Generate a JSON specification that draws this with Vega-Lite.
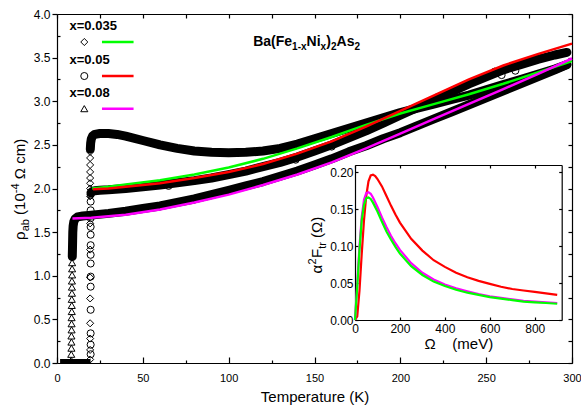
{
  "$schema": "https://vega.github.io/schema/vega-lite/v6.json",
  "width": 515,
  "height": 349,
  "autosize": {"type": "none"},
  "padding": {"left": 57, "top": 14, "right": 9, "bottom": 43},
  "config": {
    "view": {"stroke": null},
    "font": "Liberation Sans",
    "axis": {"grid": false, "labelFlush": false, "domainColor": "#000", "tickColor": "#000", "labelColor": "#000", "titleColor": "#000", "domainWidth": 1.2, "tickWidth": 1.2, "labelFont": "Liberation Sans", "titleFont": "Liberation Sans", "titleFontWeight": "normal", "labelFontSize": 12, "titleFontSize": 15},
    "text": {"font": "Liberation Sans", "fill": "#000"}
  },
  "datasets": {
    "curves": [
      {"s": "x=0.08", "T": 2, "rho": 0}, {"s": "x=0.08", "T": 8.3, "rho": 0},
      {"s": "x=0.05", "T": 2, "rho": 0}, {"s": "x=0.05", "T": 19.5, "rho": 0},
      {"s": "x=0.035", "T": 2, "rho": 0}, {"s": "x=0.035", "T": 19.3, "rho": 0},
      {"s": "x=0.08", "T": 8.9, "rho": 1.22}, {"s": "x=0.08", "T": 9.0, "rho": 1.3}, {"s": "x=0.08", "T": 9.1, "rho": 1.4}, {"s": "x=0.08", "T": 9.2, "rho": 1.5}, {"s": "x=0.08", "T": 9.4, "rho": 1.57}, {"s": "x=0.08", "T": 9.8, "rho": 1.62}, {"s": "x=0.08", "T": 10.5, "rho": 1.65}, {"s": "x=0.08", "T": 12, "rho": 1.675}, {"s": "x=0.08", "T": 15, "rho": 1.685}, {"s": "x=0.08", "T": 20, "rho": 1.695}, {"s": "x=0.08", "T": 30, "rho": 1.715}, {"s": "x=0.08", "T": 40, "rho": 1.74}, {"s": "x=0.08", "T": 50, "rho": 1.77}, {"s": "x=0.08", "T": 60, "rho": 1.8}, {"s": "x=0.08", "T": 70, "rho": 1.84}, {"s": "x=0.08", "T": 80, "rho": 1.88}, {"s": "x=0.08", "T": 90, "rho": 1.93}, {"s": "x=0.08", "T": 100, "rho": 1.98}, {"s": "x=0.08", "T": 110, "rho": 2.03}, {"s": "x=0.08", "T": 120, "rho": 2.08}, {"s": "x=0.08", "T": 130, "rho": 2.14}, {"s": "x=0.08", "T": 140, "rho": 2.2}, {"s": "x=0.08", "T": 150, "rho": 2.27}, {"s": "x=0.08", "T": 160, "rho": 2.34}, {"s": "x=0.08", "T": 170, "rho": 2.42}, {"s": "x=0.08", "T": 180, "rho": 2.49}, {"s": "x=0.08", "T": 190, "rho": 2.57}, {"s": "x=0.08", "T": 200, "rho": 2.64}, {"s": "x=0.08", "T": 210, "rho": 2.72}, {"s": "x=0.08", "T": 220, "rho": 2.8}, {"s": "x=0.08", "T": 230, "rho": 2.88}, {"s": "x=0.08", "T": 240, "rho": 2.96}, {"s": "x=0.08", "T": 250, "rho": 3.04}, {"s": "x=0.08", "T": 260, "rho": 3.12}, {"s": "x=0.08", "T": 270, "rho": 3.2}, {"s": "x=0.08", "T": 280, "rho": 3.28}, {"s": "x=0.08", "T": 290, "rho": 3.36}, {"s": "x=0.08", "T": 297, "rho": 3.42},
      {"s": "x=0.05", "T": 19.8, "rho": 1.95}, {"s": "x=0.05", "T": 20.5, "rho": 1.965}, {"s": "x=0.05", "T": 22, "rho": 1.975}, {"s": "x=0.05", "T": 25, "rho": 1.98}, {"s": "x=0.05", "T": 30, "rho": 1.985}, {"s": "x=0.05", "T": 40, "rho": 2.0}, {"s": "x=0.05", "T": 50, "rho": 2.02}, {"s": "x=0.05", "T": 60, "rho": 2.04}, {"s": "x=0.05", "T": 70, "rho": 2.065}, {"s": "x=0.05", "T": 80, "rho": 2.09}, {"s": "x=0.05", "T": 90, "rho": 2.12}, {"s": "x=0.05", "T": 100, "rho": 2.16}, {"s": "x=0.05", "T": 110, "rho": 2.2}, {"s": "x=0.05", "T": 120, "rho": 2.25}, {"s": "x=0.05", "T": 130, "rho": 2.3}, {"s": "x=0.05", "T": 140, "rho": 2.36}, {"s": "x=0.05", "T": 150, "rho": 2.43}, {"s": "x=0.05", "T": 160, "rho": 2.5}, {"s": "x=0.05", "T": 170, "rho": 2.58}, {"s": "x=0.05", "T": 180, "rho": 2.66}, {"s": "x=0.05", "T": 190, "rho": 2.75}, {"s": "x=0.05", "T": 200, "rho": 2.84}, {"s": "x=0.05", "T": 210, "rho": 2.93}, {"s": "x=0.05", "T": 220, "rho": 3.02}, {"s": "x=0.05", "T": 230, "rho": 3.11}, {"s": "x=0.05", "T": 240, "rho": 3.2}, {"s": "x=0.05", "T": 250, "rho": 3.28}, {"s": "x=0.05", "T": 260, "rho": 3.36}, {"s": "x=0.05", "T": 270, "rho": 3.42}, {"s": "x=0.05", "T": 280, "rho": 3.48}, {"s": "x=0.05", "T": 290, "rho": 3.53}, {"s": "x=0.05", "T": 297, "rho": 3.56},
      {"s": "x=0.035", "T": 19.4, "rho": 2.45}, {"s": "x=0.035", "T": 19.6, "rho": 2.52}, {"s": "x=0.035", "T": 20, "rho": 2.57}, {"s": "x=0.035", "T": 20.7, "rho": 2.6}, {"s": "x=0.035", "T": 22, "rho": 2.62}, {"s": "x=0.035", "T": 25, "rho": 2.63}, {"s": "x=0.035", "T": 30, "rho": 2.63}, {"s": "x=0.035", "T": 35, "rho": 2.62}, {"s": "x=0.035", "T": 40, "rho": 2.6}, {"s": "x=0.035", "T": 50, "rho": 2.55}, {"s": "x=0.035", "T": 60, "rho": 2.5}, {"s": "x=0.035", "T": 70, "rho": 2.46}, {"s": "x=0.035", "T": 80, "rho": 2.43}, {"s": "x=0.035", "T": 90, "rho": 2.415}, {"s": "x=0.035", "T": 100, "rho": 2.41}, {"s": "x=0.035", "T": 110, "rho": 2.415}, {"s": "x=0.035", "T": 120, "rho": 2.43}, {"s": "x=0.035", "T": 130, "rho": 2.46}, {"s": "x=0.035", "T": 140, "rho": 2.51}, {"s": "x=0.035", "T": 150, "rho": 2.57}, {"s": "x=0.035", "T": 160, "rho": 2.63}, {"s": "x=0.035", "T": 170, "rho": 2.69}, {"s": "x=0.035", "T": 180, "rho": 2.75}, {"s": "x=0.035", "T": 190, "rho": 2.81}, {"s": "x=0.035", "T": 200, "rho": 2.87}, {"s": "x=0.035", "T": 210, "rho": 2.92}, {"s": "x=0.035", "T": 220, "rho": 2.97}, {"s": "x=0.035", "T": 230, "rho": 3.02}, {"s": "x=0.035", "T": 240, "rho": 3.07}, {"s": "x=0.035", "T": 250, "rho": 3.13}, {"s": "x=0.035", "T": 260, "rho": 3.19}, {"s": "x=0.035", "T": 270, "rho": 3.25}, {"s": "x=0.035", "T": 280, "rho": 3.31}, {"s": "x=0.035", "T": 290, "rho": 3.37}, {"s": "x=0.035", "T": 297, "rho": 3.42}
    ],
    "points": [
      {"s": "x=0.08", "T": 8.3, "rho": 0.03}, {"s": "x=0.08", "T": 8.3, "rho": 0.1}, {"s": "x=0.08", "T": 8.4, "rho": 0.17}, {"s": "x=0.08", "T": 8.4, "rho": 0.24}, {"s": "x=0.08", "T": 8.4, "rho": 0.31}, {"s": "x=0.08", "T": 8.5, "rho": 0.38}, {"s": "x=0.08", "T": 8.5, "rho": 0.45}, {"s": "x=0.08", "T": 8.5, "rho": 0.52}, {"s": "x=0.08", "T": 8.6, "rho": 0.59}, {"s": "x=0.08", "T": 8.6, "rho": 0.66}, {"s": "x=0.08", "T": 8.6, "rho": 0.73}, {"s": "x=0.08", "T": 8.7, "rho": 0.8}, {"s": "x=0.08", "T": 8.7, "rho": 0.87}, {"s": "x=0.08", "T": 8.7, "rho": 0.94}, {"s": "x=0.08", "T": 8.8, "rho": 1.01}, {"s": "x=0.08", "T": 8.8, "rho": 1.08}, {"s": "x=0.08", "T": 8.8, "rho": 1.15},
      {"s": "x=0.035", "T": 19.3, "rho": 0.04}, {"s": "x=0.035", "T": 19.3, "rho": 0.15}, {"s": "x=0.035", "T": 19.3, "rho": 0.28}, {"s": "x=0.035", "T": 19.3, "rho": 0.455}, {"s": "x=0.035", "T": 19.3, "rho": 0.74}, {"s": "x=0.035", "T": 19.3, "rho": 0.98}, {"s": "x=0.035", "T": 19.3, "rho": 1.3}, {"s": "x=0.035", "T": 19.3, "rho": 1.6}, {"s": "x=0.035", "T": 19.3, "rho": 1.91}, {"s": "x=0.035", "T": 19.3, "rho": 2.0}, {"s": "x=0.035", "T": 19.3, "rho": 2.06}, {"s": "x=0.035", "T": 19.3, "rho": 2.12}, {"s": "x=0.035", "T": 19.3, "rho": 2.19}, {"s": "x=0.035", "T": 19.3, "rho": 2.27}, {"s": "x=0.035", "T": 19.3, "rho": 2.35}, {"s": "x=0.035", "T": 19.3, "rho": 2.42},
      {"s": "x=0.05", "T": 19.6, "rho": 0.1}, {"s": "x=0.05", "T": 19.6, "rho": 0.21}, {"s": "x=0.05", "T": 19.6, "rho": 0.34}, {"s": "x=0.05", "T": 19.6, "rho": 0.61}, {"s": "x=0.05", "T": 19.6, "rho": 0.875}, {"s": "x=0.05", "T": 19.6, "rho": 0.99}, {"s": "x=0.05", "T": 19.6, "rho": 1.14}, {"s": "x=0.05", "T": 19.6, "rho": 1.24}, {"s": "x=0.05", "T": 19.6, "rho": 1.35}, {"s": "x=0.05", "T": 19.6, "rho": 1.47}, {"s": "x=0.05", "T": 19.6, "rho": 1.56}, {"s": "x=0.05", "T": 19.6, "rho": 1.66}, {"s": "x=0.05", "T": 19.6, "rho": 1.75}, {"s": "x=0.05", "T": 19.6, "rho": 1.85}, {"s": "x=0.05", "T": 19.6, "rho": 1.93},
      {"s": "x=0.05", "T": 65, "rho": 2.03}, {"s": "x=0.05", "T": 139, "rho": 2.33}, {"s": "x=0.05", "T": 160, "rho": 2.48}, {"s": "x=0.05", "T": 222, "rho": 3.05}, {"s": "x=0.05", "T": 255, "rho": 3.34}, {"s": "x=0.05", "T": 259, "rho": 3.3}, {"s": "x=0.05", "T": 267, "rho": 3.35}
    ],
    "fits": [
      {"s": "x=0.035", "T": 20.5, "rho": 2.0}, {"s": "x=0.035", "T": 30, "rho": 2.02}, {"s": "x=0.035", "T": 40, "rho": 2.045}, {"s": "x=0.035", "T": 60, "rho": 2.095}, {"s": "x=0.035", "T": 80, "rho": 2.16}, {"s": "x=0.035", "T": 100, "rho": 2.24}, {"s": "x=0.035", "T": 120, "rho": 2.34}, {"s": "x=0.035", "T": 140, "rho": 2.46}, {"s": "x=0.035", "T": 160, "rho": 2.59}, {"s": "x=0.035", "T": 180, "rho": 2.73}, {"s": "x=0.035", "T": 200, "rho": 2.86}, {"s": "x=0.035", "T": 220, "rho": 2.97}, {"s": "x=0.035", "T": 240, "rho": 3.08}, {"s": "x=0.035", "T": 260, "rho": 3.2}, {"s": "x=0.035", "T": 280, "rho": 3.33}, {"s": "x=0.035", "T": 300, "rho": 3.46},
      {"s": "x=0.05", "T": 21, "rho": 1.99}, {"s": "x=0.05", "T": 30, "rho": 2.0}, {"s": "x=0.05", "T": 40, "rho": 2.02}, {"s": "x=0.05", "T": 60, "rho": 2.06}, {"s": "x=0.05", "T": 80, "rho": 2.12}, {"s": "x=0.05", "T": 100, "rho": 2.19}, {"s": "x=0.05", "T": 120, "rho": 2.28}, {"s": "x=0.05", "T": 140, "rho": 2.4}, {"s": "x=0.05", "T": 160, "rho": 2.54}, {"s": "x=0.05", "T": 180, "rho": 2.71}, {"s": "x=0.05", "T": 200, "rho": 2.89}, {"s": "x=0.05", "T": 220, "rho": 3.07}, {"s": "x=0.05", "T": 240, "rho": 3.25}, {"s": "x=0.05", "T": 260, "rho": 3.41}, {"s": "x=0.05", "T": 280, "rho": 3.54}, {"s": "x=0.05", "T": 300, "rho": 3.66},
      {"s": "x=0.08", "T": 9, "rho": 1.655}, {"s": "x=0.08", "T": 20, "rho": 1.665}, {"s": "x=0.08", "T": 40, "rho": 1.7}, {"s": "x=0.08", "T": 60, "rho": 1.76}, {"s": "x=0.08", "T": 80, "rho": 1.84}, {"s": "x=0.08", "T": 100, "rho": 1.93}, {"s": "x=0.08", "T": 120, "rho": 2.04}, {"s": "x=0.08", "T": 140, "rho": 2.16}, {"s": "x=0.08", "T": 160, "rho": 2.3}, {"s": "x=0.08", "T": 180, "rho": 2.46}, {"s": "x=0.08", "T": 200, "rho": 2.63}, {"s": "x=0.08", "T": 220, "rho": 2.8}, {"s": "x=0.08", "T": 240, "rho": 2.97}, {"s": "x=0.08", "T": 260, "rho": 3.14}, {"s": "x=0.08", "T": 280, "rho": 3.31}, {"s": "x=0.08", "T": 300, "rho": 3.49}
    ],
    "inset": [
      {"s": "x=0.05", "W": 0, "a2F": 0}, {"s": "x=0.05", "W": 10, "a2F": 0.005}, {"s": "x=0.05", "W": 20, "a2F": 0.04}, {"s": "x=0.05", "W": 30, "a2F": 0.09}, {"s": "x=0.05", "W": 40, "a2F": 0.135}, {"s": "x=0.05", "W": 50, "a2F": 0.168}, {"s": "x=0.05", "W": 60, "a2F": 0.188}, {"s": "x=0.05", "W": 70, "a2F": 0.196}, {"s": "x=0.05", "W": 80, "a2F": 0.197}, {"s": "x=0.05", "W": 90, "a2F": 0.195}, {"s": "x=0.05", "W": 100, "a2F": 0.191}, {"s": "x=0.05", "W": 120, "a2F": 0.181}, {"s": "x=0.05", "W": 140, "a2F": 0.168}, {"s": "x=0.05", "W": 160, "a2F": 0.155}, {"s": "x=0.05", "W": 180, "a2F": 0.143}, {"s": "x=0.05", "W": 200, "a2F": 0.132}, {"s": "x=0.05", "W": 250, "a2F": 0.11}, {"s": "x=0.05", "W": 300, "a2F": 0.094}, {"s": "x=0.05", "W": 350, "a2F": 0.081}, {"s": "x=0.05", "W": 400, "a2F": 0.072}, {"s": "x=0.05", "W": 450, "a2F": 0.064}, {"s": "x=0.05", "W": 500, "a2F": 0.058}, {"s": "x=0.05", "W": 550, "a2F": 0.053}, {"s": "x=0.05", "W": 600, "a2F": 0.049}, {"s": "x=0.05", "W": 650, "a2F": 0.045}, {"s": "x=0.05", "W": 700, "a2F": 0.042}, {"s": "x=0.05", "W": 750, "a2F": 0.04}, {"s": "x=0.05", "W": 800, "a2F": 0.038}, {"s": "x=0.05", "W": 850, "a2F": 0.036}, {"s": "x=0.05", "W": 900, "a2F": 0.034},
      {"s": "x=0.08", "W": 0, "a2F": 0}, {"s": "x=0.08", "W": 10, "a2F": 0.05}, {"s": "x=0.08", "W": 20, "a2F": 0.1}, {"s": "x=0.08", "W": 30, "a2F": 0.14}, {"s": "x=0.08", "W": 40, "a2F": 0.163}, {"s": "x=0.08", "W": 50, "a2F": 0.172}, {"s": "x=0.08", "W": 60, "a2F": 0.173}, {"s": "x=0.08", "W": 70, "a2F": 0.171}, {"s": "x=0.08", "W": 80, "a2F": 0.166}, {"s": "x=0.08", "W": 100, "a2F": 0.153}, {"s": "x=0.08", "W": 120, "a2F": 0.139}, {"s": "x=0.08", "W": 140, "a2F": 0.126}, {"s": "x=0.08", "W": 160, "a2F": 0.114}, {"s": "x=0.08", "W": 180, "a2F": 0.104}, {"s": "x=0.08", "W": 200, "a2F": 0.095}, {"s": "x=0.08", "W": 250, "a2F": 0.077}, {"s": "x=0.08", "W": 300, "a2F": 0.064}, {"s": "x=0.08", "W": 350, "a2F": 0.055}, {"s": "x=0.08", "W": 400, "a2F": 0.048}, {"s": "x=0.08", "W": 450, "a2F": 0.043}, {"s": "x=0.08", "W": 500, "a2F": 0.039}, {"s": "x=0.08", "W": 550, "a2F": 0.035}, {"s": "x=0.08", "W": 600, "a2F": 0.032}, {"s": "x=0.08", "W": 650, "a2F": 0.03}, {"s": "x=0.08", "W": 700, "a2F": 0.028}, {"s": "x=0.08", "W": 750, "a2F": 0.026}, {"s": "x=0.08", "W": 800, "a2F": 0.025}, {"s": "x=0.08", "W": 850, "a2F": 0.024}, {"s": "x=0.08", "W": 900, "a2F": 0.023},
      {"s": "x=0.035", "W": 0, "a2F": 0}, {"s": "x=0.035", "W": 10, "a2F": 0.045}, {"s": "x=0.035", "W": 20, "a2F": 0.095}, {"s": "x=0.035", "W": 30, "a2F": 0.135}, {"s": "x=0.035", "W": 40, "a2F": 0.156}, {"s": "x=0.035", "W": 50, "a2F": 0.165}, {"s": "x=0.035", "W": 60, "a2F": 0.166}, {"s": "x=0.035", "W": 70, "a2F": 0.164}, {"s": "x=0.035", "W": 80, "a2F": 0.159}, {"s": "x=0.035", "W": 100, "a2F": 0.147}, {"s": "x=0.035", "W": 120, "a2F": 0.133}, {"s": "x=0.035", "W": 140, "a2F": 0.12}, {"s": "x=0.035", "W": 160, "a2F": 0.109}, {"s": "x=0.035", "W": 180, "a2F": 0.099}, {"s": "x=0.035", "W": 200, "a2F": 0.09}, {"s": "x=0.035", "W": 250, "a2F": 0.073}, {"s": "x=0.035", "W": 300, "a2F": 0.061}, {"s": "x=0.035", "W": 350, "a2F": 0.052}, {"s": "x=0.035", "W": 400, "a2F": 0.046}, {"s": "x=0.035", "W": 450, "a2F": 0.041}, {"s": "x=0.035", "W": 500, "a2F": 0.037}, {"s": "x=0.035", "W": 550, "a2F": 0.034}, {"s": "x=0.035", "W": 600, "a2F": 0.031}, {"s": "x=0.035", "W": 650, "a2F": 0.029}, {"s": "x=0.035", "W": 700, "a2F": 0.027}, {"s": "x=0.035", "W": 750, "a2F": 0.025}, {"s": "x=0.035", "W": 800, "a2F": 0.024}, {"s": "x=0.035", "W": 850, "a2F": 0.023}, {"s": "x=0.035", "W": 900, "a2F": 0.022}
    ]
  },
  "layer": [
    {
      "layer": [
        {
          "data": {"name": "curves"},
          "transform": [{"filter": "datum.rho > 0"}],
          "mark": {"type": "line", "color": "#000", "strokeWidth": 9, "strokeCap": "round", "strokeJoin": "round"},
          "encoding": {
            "x": {"field": "T", "type": "quantitative", "scale": {"domain": [0, 300], "nice": false}, "axis": {"orient": "bottom", "values": [0, 50, 100, 150, 200, 250, 300], "tickSize": -6, "labelPadding": 15, "labelFontSize": 11, "title": "Temperature (K)", "titlePadding": 6}},
            "y": {"field": "rho", "type": "quantitative", "scale": {"domain": [0, 4], "nice": false}, "axis": {"orient": "left", "values": [0, 0.5, 1, 1.5, 2, 2.5, 3, 3.5, 4], "format": ".1f", "tickSize": 5, "labelPadding": 2, "title": null}},
            "detail": {"field": "s"}
          }
        },
        {
          "data": {"name": "curves"},
          "transform": [{"filter": "datum.rho == 0"}],
          "mark": {"type": "line", "color": "#000", "strokeWidth": 8, "clip": true},
          "encoding": {
            "x": {"field": "T", "type": "quantitative"},
            "y": {"field": "rho", "type": "quantitative"},
            "detail": {"field": "s"}
          }
        },
        {
          "data": {"name": "points"},
          "mark": {"type": "point", "filled": false, "color": "#000", "strokeWidth": 1, "size": 50, "opacity": 1, "clip": true},
          "encoding": {
            "x": {"field": "T", "type": "quantitative"},
            "y": {"field": "rho", "type": "quantitative"},
            "shape": {"field": "s", "type": "nominal", "scale": {"domain": ["x=0.035", "x=0.05", "x=0.08"], "range": ["diamond", "circle", "triangle-up"]}, "legend": null}
          }
        },
        {
          "data": {"name": "fits"},
          "mark": {"type": "line", "strokeWidth": 2.5},
          "encoding": {
            "x": {"field": "T", "type": "quantitative"},
            "y": {"field": "rho", "type": "quantitative"},
            "color": {"field": "s", "type": "nominal", "scale": {"domain": ["x=0.035", "x=0.05", "x=0.08"], "range": ["#00ff00", "#ff0000", "#ff00ff"]}, "legend": null}
          }
        },
        {"data": {"values": [{}]}, "mark": {"type": "text", "text": "x=0.035", "fontWeight": "bold", "fontSize": 13, "align": "left", "baseline": "middle"}, "encoding": {"x": {"datum": 7.3, "type": "quantitative"}, "y": {"datum": 3.862, "type": "quantitative"}}},
        {"data": {"values": [{}]}, "mark": {"type": "text", "text": "x=0.05", "fontWeight": "bold", "fontSize": 13, "align": "left", "baseline": "middle"}, "encoding": {"x": {"datum": 7.3, "type": "quantitative"}, "y": {"datum": 3.473, "type": "quantitative"}}},
        {"data": {"values": [{}]}, "mark": {"type": "text", "text": "x=0.08", "fontWeight": "bold", "fontSize": 13, "align": "left", "baseline": "middle"}, "encoding": {"x": {"datum": 7.3, "type": "quantitative"}, "y": {"datum": 3.098, "type": "quantitative"}}},
        {"data": {"values": [{}]}, "mark": {"type": "point", "shape": "diamond", "filled": false, "color": "#000", "size": 50, "strokeWidth": 1, "opacity": 1}, "encoding": {"x": {"datum": 15.9, "type": "quantitative"}, "y": {"datum": 3.679, "type": "quantitative"}}},
        {"data": {"values": [{}]}, "mark": {"type": "point", "shape": "circle", "filled": false, "color": "#000", "size": 50, "strokeWidth": 1, "opacity": 1}, "encoding": {"x": {"datum": 15.9, "type": "quantitative"}, "y": {"datum": 3.289, "type": "quantitative"}}},
        {"data": {"values": [{}]}, "mark": {"type": "point", "shape": "triangle-up", "filled": false, "color": "#000", "size": 50, "strokeWidth": 1, "opacity": 1}, "encoding": {"x": {"datum": 15.9, "type": "quantitative"}, "y": {"datum": 2.915, "type": "quantitative"}}},
        {"data": {"values": [{}]}, "mark": {"type": "rule", "color": "#00ff00", "strokeWidth": 2.5}, "encoding": {"x": {"datum": 26.2, "type": "quantitative"}, "x2": {"datum": 44.6}, "y": {"datum": 3.679, "type": "quantitative"}}},
        {"data": {"values": [{}]}, "mark": {"type": "rule", "color": "#ff0000", "strokeWidth": 2.5}, "encoding": {"x": {"datum": 26.2, "type": "quantitative"}, "x2": {"datum": 44.6}, "y": {"datum": 3.289, "type": "quantitative"}}},
        {"data": {"values": [{}]}, "mark": {"type": "rule", "color": "#ff00ff", "strokeWidth": 2.5}, "encoding": {"x": {"datum": 26.2, "type": "quantitative"}, "x2": {"datum": 44.6}, "y": {"datum": 2.915, "type": "quantitative"}}},
        {"data": {"values": [{}]}, "mark": {"type": "text", "text": "Ba(Fe", "fontWeight": "bold", "fontSize": 14, "align": "left", "baseline": "alphabetic", "dx": 0}, "encoding": {"x": {"datum": 114.3, "type": "quantitative"}, "y": {"datum": 3.633, "type": "quantitative"}}},
        {"data": {"values": [{}]}, "mark": {"type": "text", "text": "1-x", "fontWeight": "bold", "fontSize": 10, "align": "left", "baseline": "alphabetic", "dx": 38.9, "dy": 3.5}, "encoding": {"x": {"datum": 114.3, "type": "quantitative"}, "y": {"datum": 3.633, "type": "quantitative"}}},
        {"data": {"values": [{}]}, "mark": {"type": "text", "text": "Ni", "fontWeight": "bold", "fontSize": 14, "align": "left", "baseline": "alphabetic", "dx": 53.4}, "encoding": {"x": {"datum": 114.3, "type": "quantitative"}, "y": {"datum": 3.633, "type": "quantitative"}}},
        {"data": {"values": [{}]}, "mark": {"type": "text", "text": "x", "fontWeight": "bold", "fontSize": 10, "align": "left", "baseline": "alphabetic", "dx": 67.4, "dy": 3.5}, "encoding": {"x": {"datum": 114.3, "type": "quantitative"}, "y": {"datum": 3.633, "type": "quantitative"}}},
        {"data": {"values": [{}]}, "mark": {"type": "text", "text": ")", "fontWeight": "bold", "fontSize": 14, "align": "left", "baseline": "alphabetic", "dx": 73.0}, "encoding": {"x": {"datum": 114.3, "type": "quantitative"}, "y": {"datum": 3.633, "type": "quantitative"}}},
        {"data": {"values": [{}]}, "mark": {"type": "text", "text": "2", "fontWeight": "bold", "fontSize": 10, "align": "left", "baseline": "alphabetic", "dx": 77.7, "dy": 3.5}, "encoding": {"x": {"datum": 114.3, "type": "quantitative"}, "y": {"datum": 3.633, "type": "quantitative"}}},
        {"data": {"values": [{}]}, "mark": {"type": "text", "text": "As", "fontWeight": "bold", "fontSize": 14, "align": "left", "baseline": "alphabetic", "dx": 83.3}, "encoding": {"x": {"datum": 114.3, "type": "quantitative"}, "y": {"datum": 3.633, "type": "quantitative"}}},
        {"data": {"values": [{}]}, "mark": {"type": "text", "text": "2", "fontWeight": "bold", "fontSize": 10, "align": "left", "baseline": "alphabetic", "dx": 101.2, "dy": 3.5}, "encoding": {"x": {"datum": 114.3, "type": "quantitative"}, "y": {"datum": 3.633, "type": "quantitative"}}},
        {"data": {"values": [{}]}, "mark": {"type": "text", "text": "ρ", "fontSize": 15, "align": "left", "baseline": "alphabetic", "angle": 270, "dx": 0}, "encoding": {"x": {"datum": -18.46, "type": "quantitative"}, "y": {"datum": 1.41, "type": "quantitative"}}},
        {"data": {"values": [{}]}, "mark": {"type": "text", "text": "ab", "fontSize": 11, "align": "left", "baseline": "alphabetic", "angle": 270, "dx": 8.7, "dy": 4}, "encoding": {"x": {"datum": -18.46, "type": "quantitative"}, "y": {"datum": 1.41, "type": "quantitative"}}},
        {"data": {"values": [{}]}, "mark": {"type": "text", "text": "(10", "fontSize": 15, "align": "left", "baseline": "alphabetic", "angle": 270, "dx": 25.1}, "encoding": {"x": {"datum": -18.46, "type": "quantitative"}, "y": {"datum": 1.41, "type": "quantitative"}}},
        {"data": {"values": [{}]}, "mark": {"type": "text", "text": "-4", "fontSize": 11, "align": "left", "baseline": "alphabetic", "angle": 270, "dx": 46.8, "dy": -6}, "encoding": {"x": {"datum": -18.46, "type": "quantitative"}, "y": {"datum": 1.41, "type": "quantitative"}}},
        {"data": {"values": [{}]}, "mark": {"type": "text", "text": "Ω cm)", "fontSize": 15, "align": "left", "baseline": "alphabetic", "angle": 270, "dx": 60.8}, "encoding": {"x": {"datum": -18.46, "type": "quantitative"}, "y": {"datum": 1.41, "type": "quantitative"}}}
      ]
    },
    {
      "data": {"values": [{}]},
      "mark": {"type": "point", "opacity": 0},
      "encoding": {
        "x": {"datum": 0, "type": "quantitative", "scale": {"domain": [0, 300], "nice": false}, "axis": {"orient": "top", "values": [0, 25, 50, 75, 100, 125, 150, 175, 200, 225, 250, 275, 300], "tickSize": -4, "labels": false, "title": null}},
        "y": {"datum": 0, "type": "quantitative", "scale": {"domain": [0, 4], "nice": false}, "axis": {"orient": "right", "values": [0, 0.25, 0.5, 0.75, 1, 1.25, 1.5, 1.75, 2, 2.25, 2.5, 2.75, 3, 3.25, 3.5, 3.75, 4], "tickSize": -4, "labels": false, "title": null}}
      }
    },
    {
      "data": {"values": [{}]},
      "mark": {"type": "point", "opacity": 0},
      "encoding": {
        "x": {"datum": 0, "type": "quantitative", "scale": {"domain": [0, 300], "nice": false}, "axis": {"orient": "bottom", "values": [25, 75, 125, 175, 225, 275], "tickSize": -3, "labels": false, "domain": false, "title": null}},
        "y": {"datum": 0, "type": "quantitative", "scale": {"domain": [0, 4], "nice": false}, "axis": {"orient": "left", "values": [0.25, 0.75, 1.25, 1.75, 2.25, 2.75, 3.25, 3.75], "tickSize": -3, "labels": false, "domain": false, "title": null}}
      }
    },
    {
      "layer": [
        {
          "data": {"name": "inset"},
          "mark": {"type": "line", "strokeWidth": 2.2},
          "encoding": {
            "x": {"field": "W", "type": "quantitative", "scale": {"domain": [0, 920], "range": [298, 504.7], "nice": false}, "axis": {"orient": "bottom", "offset": -43, "values": [0, 200, 400, 600, 800], "tickSize": -3, "labelPadding": 6, "title": "Ω\u00a0\u00a0\u00a0\u00a0(meV)", "titlePadding": 2}},
            "y": {"field": "a2F", "type": "quantitative", "scale": {"domain": [0, 0.21], "range": [306, 151], "nice": false}, "axis": {"orient": "left", "offset": -298, "values": [0, 0.05, 0.1, 0.15, 0.2], "format": ".2f", "tickSize": -3, "labelPadding": 5, "title": null}},
            "color": {"field": "s", "type": "nominal", "scale": {"domain": ["x=0.035", "x=0.05", "x=0.08"], "range": ["#00ff00", "#ff0000", "#ff00ff"]}, "legend": null}
          }
        },
        {"data": {"values": [{}]}, "mark": {"type": "text", "text": "α", "fontSize": 15, "align": "left", "baseline": "alphabetic", "angle": 270, "dx": 0}, "encoding": {"x": {"datum": -148.2, "type": "quantitative"}, "y": {"datum": 0.063, "type": "quantitative"}}},
        {"data": {"values": [{}]}, "mark": {"type": "text", "text": "2", "fontSize": 11, "align": "left", "baseline": "alphabetic", "angle": 270, "dx": 9, "dy": -6}, "encoding": {"x": {"datum": -148.2, "type": "quantitative"}, "y": {"datum": 0.063, "type": "quantitative"}}},
        {"data": {"values": [{}]}, "mark": {"type": "text", "text": "F", "fontSize": 15, "align": "left", "baseline": "alphabetic", "angle": 270, "dx": 15.5}, "encoding": {"x": {"datum": -148.2, "type": "quantitative"}, "y": {"datum": 0.063, "type": "quantitative"}}},
        {"data": {"values": [{}]}, "mark": {"type": "text", "text": "tr", "fontSize": 11, "align": "left", "baseline": "alphabetic", "angle": 270, "dx": 24.7, "dy": 4}, "encoding": {"x": {"datum": -148.2, "type": "quantitative"}, "y": {"datum": 0.063, "type": "quantitative"}}},
        {"data": {"values": [{}]}, "mark": {"type": "text", "text": "(Ω)", "fontSize": 15, "align": "left", "baseline": "alphabetic", "angle": 270, "dx": 35.6}, "encoding": {"x": {"datum": -148.2, "type": "quantitative"}, "y": {"datum": 0.063, "type": "quantitative"}}}
      ]
    },
    {
      "data": {"values": [{}]},
      "mark": {"type": "point", "opacity": 0},
      "encoding": {
        "x": {"datum": 0, "type": "quantitative", "scale": {"domain": [0, 920], "range": [298, 504.7], "nice": false}, "axis": {"orient": "top", "offset": -151, "values": [0, 200, 400, 600, 800], "tickSize": -3, "labels": false, "title": null}},
        "y": {"datum": 0, "type": "quantitative", "scale": {"domain": [0, 0.21], "range": [306, 151], "nice": false}, "axis": {"orient": "right", "offset": -10.3, "values": [0, 0.05, 0.1, 0.15, 0.2], "tickSize": -3, "labels": false, "title": null}}
      }
    }
  ],
  "resolve": {"scale": {"x": "independent", "y": "independent"}}
}
